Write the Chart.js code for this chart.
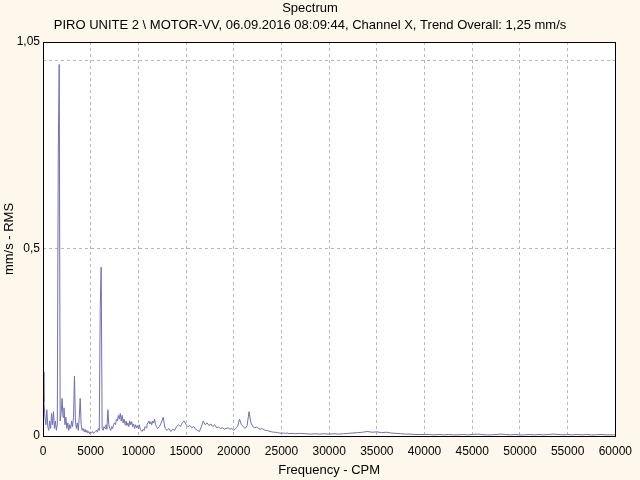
<!DOCTYPE html>
<html>
<head>
<meta charset="utf-8">
<script src="https://cdn.jsdelivr.net/npm/chart.js@4"></script>
<style>
  html, body { margin: 0; padding: 0; background: #fdf8eb; }
  #wrap { width: 640px; height: 480px; }
</style>
</head>
<body>
<div id="wrap"><canvas id="spectrumChart" width="640" height="480"></canvas></div>
<script>
/* ---- Spectrum data (CPM / mm/s RMS) ---- */
const chartTitle = 'Spectrum';
const chartSubtitle = 'PIRO UNITE 2 \\ MOTOR-VV, 06.09.2016 08:09:44, Channel X, Trend Overall: 1,25 mm/s';

const freqLow = [
    0, 100, 200, 300, 400, 500, 600, 700, 800, 900,
    1000, 1100, 1200, 1300, 1400, 1500, 1600, 1700, 1800, 1900,
    2000, 2100, 2200, 2300, 2400, 2500, 2600, 2700, 2800, 2900,
    3000, 3100, 3200, 3300, 3400, 3500, 3600, 3700, 3800, 3900,
    4000, 4100, 4200, 4300, 4400, 4500, 4600, 4700, 4800, 4900,
    5000, 5100, 5200, 5300, 5400, 5500, 5600, 5700, 5800, 5900,
    6000, 6100, 6200, 6300, 6400, 6500, 6600, 6700, 6800, 6900,
    7000, 7100, 7200, 7300, 7400, 7500, 7600, 7700, 7800, 7900,
    8000, 8100, 8200, 8300, 8400, 8500, 8600, 8700, 8800, 8900,
    9000, 9100, 9200, 9300, 9400, 9500, 9600, 9700, 9800, 9900,
    10000, 10100, 10200, 10300, 10400, 10500, 10600, 10700, 10800, 10900,
    11000, 11100, 11200, 11300, 11400, 11500, 11600, 11700, 11800, 11900,
    12000
];
const ampLow = [
    0.17, 0.09, 0.05, 0.03, 0.07, 0.025, 0.015, 0.04, 0.02, 0.06,
    0.03, 0.065, 0.02, 0.04, 0.015, 0.03, 0.75, 0.99, 0.04, 0.06,
    0.10, 0.05, 0.075, 0.03, 0.05, 0.02, 0.035, 0.015, 0.03, 0.02,
    0.04, 0.025, 0.05, 0.16, 0.04, 0.02, 0.035, 0.015, 0.05, 0.10,
    0.03, 0.015, 0.02, 0.012, 0.018, 0.01, 0.015, 0.008, 0.012, 0.006,
    0.01, 0.008, 0.012, 0.007, 0.01, 0.012, 0.015, 0.01, 0.02, 0.015,
    0.34, 0.45, 0.02, 0.015, 0.025, 0.02, 0.03, 0.018, 0.07, 0.03,
    0.02, 0.015, 0.025, 0.02, 0.03, 0.035, 0.03, 0.045, 0.04, 0.055,
    0.045, 0.06, 0.04, 0.055, 0.035, 0.045, 0.03, 0.04, 0.028, 0.035,
    0.025, 0.04, 0.03, 0.038, 0.025, 0.032, 0.02, 0.03, 0.022, 0.028,
    0.02, 0.03, 0.018, 0.014, 0.012, 0.018, 0.015, 0.025, 0.022, 0.03,
    0.035, 0.04, 0.032, 0.038, 0.03, 0.04, 0.035, 0.045, 0.03, 0.025,
    0.02
];

const freqMid = [
    12200, 12400, 12600, 12800, 13000, 13200, 13400, 13600, 13800, 14000,
    14200, 14400, 14600, 14800, 15000, 15200, 15400, 15600, 15800, 16000,
    16200, 16400, 16600, 16800, 17000, 17200, 17400, 17600, 17800, 18000,
    18200, 18400, 18600, 18800, 19000, 19200, 19400, 19600, 19800, 20000,
    20200, 20400, 20600, 20800, 21000, 21200, 21400, 21600, 21800, 22000,
    22200, 22400, 22600, 22800, 23000, 23200, 23400, 23600, 23800, 24000,
    24200, 24400, 24600, 24800, 25000, 25200, 25400, 25600, 25800, 26000
];
const ampMid = [
    0.025, 0.035, 0.05, 0.02, 0.015, 0.02, 0.012, 0.018, 0.015, 0.025,
    0.03, 0.025, 0.035, 0.04, 0.03, 0.025, 0.028, 0.022, 0.025, 0.018,
    0.015, 0.012, 0.025, 0.04, 0.03, 0.035, 0.028, 0.032, 0.025, 0.03,
    0.022, 0.024, 0.02, 0.022, 0.018, 0.02, 0.022, 0.018, 0.02, 0.015,
    0.02, 0.025, 0.045, 0.03, 0.025, 0.02, 0.028, 0.065, 0.035, 0.025,
    0.022, 0.024, 0.02, 0.018, 0.02, 0.016, 0.015, 0.014, 0.012, 0.011,
    0.01, 0.01, 0.009, 0.008, 0.007, 0.008, 0.007, 0.008, 0.006, 0.007
];

const freqHigh = [
    26500, 27000, 27500, 28000, 28500, 29000, 29500, 30000, 30500, 31000,
    31500, 32000, 32500, 33000, 33500, 34000, 34500, 35000, 35500, 36000,
    36500, 37000, 37500, 38000, 38500, 39000, 39500, 40000, 40500, 41000,
    41500, 42000, 42500, 43000, 43500, 44000, 44500, 45000, 45500, 46000,
    46500, 47000, 47500, 48000, 48500, 49000, 49500, 50000, 50500, 51000,
    51500, 52000, 52500, 53000, 53500, 54000, 54500, 55000, 55500, 56000,
    56500, 57000, 57500, 58000, 58500, 59000, 59500, 60000
];
const ampHigh = [
    0.006, 0.007, 0.006, 0.005, 0.006, 0.005, 0.006, 0.005, 0.006, 0.005,
    0.006, 0.007, 0.008, 0.009, 0.01, 0.012, 0.01, 0.011, 0.009, 0.01,
    0.008, 0.007, 0.006, 0.005, 0.005, 0.004, 0.004, 0.004, 0.004, 0.003,
    0.004, 0.003, 0.004, 0.003, 0.003, 0.004, 0.003, 0.004, 0.005, 0.004,
    0.003, 0.003, 0.004, 0.005, 0.004, 0.003, 0.004, 0.003, 0.003, 0.004,
    0.003, 0.004, 0.003, 0.004, 0.005, 0.004, 0.003, 0.004, 0.003, 0.004,
    0.003, 0.004, 0.003, 0.003, 0.004, 0.003, 0.003, 0.003
];

const yTickValues = [0, 0.5, 1, 1.05];
const yTickLabels = ['0', '0,5', '', '1,05'];

const freqCPM = freqLow.concat(freqMid, freqHigh);
const ampRMS = ampLow.concat(ampMid, ampHigh);

const FONT = { family: '"Liberation Sans", Arial, sans-serif', size: 12, weight: 'normal' };
const TITLE_FONT = { family: '"Liberation Sans", Arial, sans-serif', size: 13, weight: 'normal' };

// cream page + white plot + black frame
const framePlugin = {
    id: 'frame',
    beforeDraw(chart) {
        const { ctx, chartArea: a } = chart;
        ctx.save();
        ctx.fillStyle = '#fdf8eb';
        ctx.fillRect(0, 0, chart.width, chart.height);
        ctx.fillStyle = '#ffffff';
        ctx.fillRect(a.left, a.top, a.right - a.left, a.bottom - a.top);
        ctx.restore();
    },
    afterDraw(chart) {
        const { ctx, chartArea: a } = chart;
        ctx.save();
        ctx.strokeStyle = '#000000';
        ctx.lineWidth = 1;
        ctx.strokeRect(Math.round(a.left) + 0.5, Math.round(a.top) + 0.5,
            Math.round(a.right - a.left), Math.round(a.bottom - a.top));
        ctx.restore();
    }
};

new Chart(document.getElementById('spectrumChart'), {
    type: 'line',
    data: {
        datasets: [{
            label: 'Spectrum',
            data: freqCPM.map((f, i) => ({ x: f, y: ampRMS[i] })),
            borderColor: '#6f6fb6',
            borderWidth: 1,
            pointRadius: 0,
            tension: 0,
            fill: false
        }]
    },
    options: {
        responsive: false,
        animation: false,
        layout: { padding: { top: 0, right: 20, left: 0, bottom: 0 } },
        plugins: {
            legend: { display: false },
            tooltip: { enabled: false },
            title: {
                display: true,
                text: chartTitle,
                color: '#000',
                font: TITLE_FONT,
                padding: { top: 1, bottom: 1 }
            },
            subtitle: {
                display: true,
                text: chartSubtitle,
                color: '#000',
                font: TITLE_FONT,
                padding: { top: 0, bottom: 8.8 }
            }
        },
        scales: {
            x: {
                type: 'linear',
                min: 0,
                max: 60000,
                ticks: {
                    stepSize: 5000,
                    color: '#000',
                    font: FONT,
                    padding: 8,
                    maxRotation: 0,
                    callback: v => String(v)
                },
                grid: {
                    drawTicks: false,
                    color: ctx => (ctx.tick.value === 0 || ctx.tick.value === 60000) ? 'rgba(0,0,0,0)' : '#b8b8b8'
                },
                border: { display: false, dash: [3, 3] },
                title: {
                    display: true,
                    text: 'Frequency - CPM',
                    color: '#000',
                    font: TITLE_FONT,
                    padding: { top: 0, bottom: 2 }
                },
                afterFit: s => { s.height = 44; }
            },
            y: {
                min: 0,
                max: 1.05,
                afterBuildTicks: s => { s.ticks = yTickValues.map(v => ({ value: v })); },
                ticks: {
                    color: '#000',
                    font: FONT,
                    padding: 3,
                    callback: (v, i) => yTickLabels[i]
                },
                grid: {
                    drawTicks: false,
                    color: ctx => (ctx.tick.value === 0.5 || ctx.tick.value === 1) ? '#b8b8b8' : 'rgba(0,0,0,0)'
                },
                border: { display: false, dash: [3, 3] },
                title: {
                    display: true,
                    text: 'mm/s - RMS',
                    color: '#000',
                    font: TITLE_FONT,
                    padding: { top: 2, bottom: 0 }
                },
                afterFit: s => { s.width = 43; }
            }
        }
    },
    plugins: [framePlugin]
});
</script>
</body>
</html>
